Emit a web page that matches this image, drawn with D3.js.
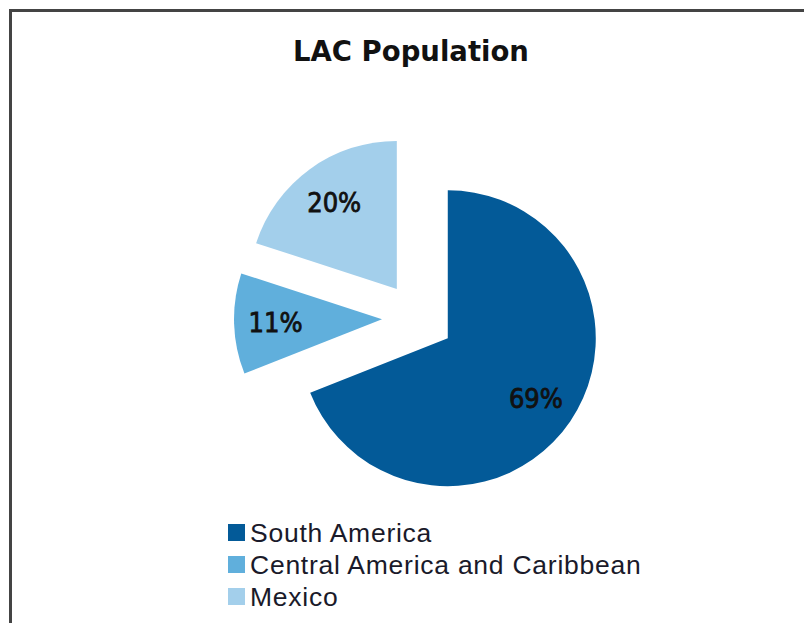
<!DOCTYPE html>
<html>
<head>
<meta charset="utf-8">
<script src="https://cdn.jsdelivr.net/npm/d3@7"></script>
<style>
body { margin: 0; background: #fff; }
</style>
</head>
<body>
<div id="chart"></div>
<script>
// data
var regions = ['South America', 'Central America and Caribbean', 'Mexico'];
var shares = [69, 11, 20];
var colors = ['#035a98', '#60afdc', '#a3cfeb'];

var chart_width = 804;
var chart_height = 623;

var svg = d3.select('#chart')
            .append('svg')
            .attr('width', chart_width)
            .attr('height', chart_height);

// frame (only top/left visible)
svg.append('rect')
    .attr('x', 10.5)
    .attr('y', 10.5)
    .attr('width', 820)
    .attr('height', 640)
    .attr('fill', '#fff')
    .attr('stroke', '#444')
    .attr('stroke-width', 3);

svg.append('text')
    .attr('x', 411)
    .attr('y', 61)
    .attr('text-anchor', 'middle')
    .attr('font-family', 'DejaVu Sans')
    .attr('font-weight', 'bold')
    .attr('font-size', '27.5px')
    .attr('fill', '#111')
    .text('LAC Population');

var cx = 418, cy = 318, radius = 148, explode = 36;

var pie = d3.pie().sort(null).value(function(d){ return d; });
var arc = d3.arc().innerRadius(0).outerRadius(radius);
var slices = pie(shares);

function midDir(d){
    var a = (d.startAngle + d.endAngle) / 2;
    return [Math.sin(a), -Math.cos(a)];
}

var g = svg.append('g')
    .attr('transform', 'translate(' + cx + ',' + cy + ')');

var slice = g.selectAll('g.slice')
    .data(slices)
    .enter()
    .append('g')
    .attr('class', 'slice')
    .attr('transform', function(d){
        var m = midDir(d);
        return 'translate(' + (m[0] * explode) + ',' + (m[1] * explode) + ')';
    });

slice.append('path')
    .attr('d', arc)
    .attr('fill', function(d, i){ return colors[i]; });

slice.append('text')
    .attr('x', function(d){ return midDir(d)[0] * radius * 0.72; })
    .attr('y', function(d){ return midDir(d)[1] * radius * 0.72; })
    .attr('dy', '0.36em')
    .attr('text-anchor', 'middle')
    .attr('font-family', 'DejaVu Sans Condensed')
    .attr('font-size', '27px')
    .attr('fill', '#111')
    .attr('stroke', '#111')
    .attr('stroke-width', 0.8)
    .text(function(d){ return d.data + '%'; });

// legend
var legend = svg.append('g')
    .attr('transform', 'translate(228,524)');

var item = legend.selectAll('g')
    .data(regions)
    .enter()
    .append('g')
    .attr('transform', function(d, i){ return 'translate(0,' + (i * 32) + ')'; });

item.append('rect')
    .attr('width', 17)
    .attr('height', 17)
    .attr('fill', function(d, i){ return colors[i]; });

item.append('text')
    .attr('x', 22)
    .attr('y', 18)
    .attr('font-family', 'Liberation Sans')
    .attr('font-size', '26.5px')
    .attr('letter-spacing', '0.75px')
    .attr('fill', '#1a1a2a')
    .text(function(d){ return d; });
</script>
</body>
</html>
